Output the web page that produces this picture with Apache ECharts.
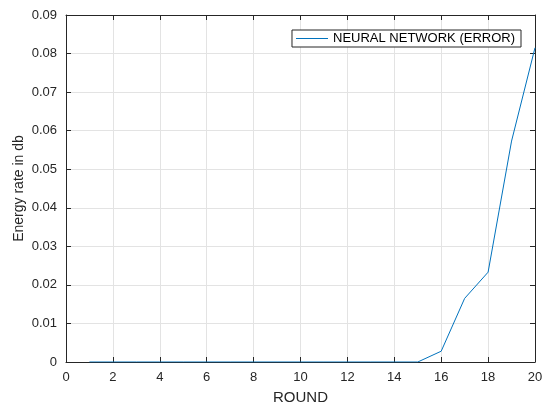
<!DOCTYPE html>
<html>
<head>
<meta charset="utf-8">
<script src="https://cdn.jsdelivr.net/npm/echarts@6/dist/echarts.min.js"></script>
<style>
html,body{margin:0;padding:0;background:#fff;}
#chart{width:544px;height:406px;}
</style>
</head>
<body>
<div id="chart"></div>
<script>
const rounds = [1,2,3,4,5,6,7,8,9,10,11,12,13,14,15,16,17,18,19,20];
const errorValues = [0,0,0,0,0,0,0,0,0,0,0,0,0,0,0,0.0028,0.0165,0.0233,0.0573,0.0815];
const seriesName = 'NEURAL NETWORK (ERROR)';
const xTitle = 'ROUND';
const yTitle = 'Energy rate in db';

const axisColor = '#262626';
const font = 'Liberation Sans, Arial, sans-serif';
const chart = echarts.init(document.getElementById('chart'), null, {renderer:'canvas'});

const xBase = {
  type:'value', min:0, max:20, interval:2,
  axisLine:{show:true, onZero:false, lineStyle:{color:axisColor, width:1}},
  axisTick:{show:true, inside:true, length:5, lineStyle:{color:axisColor}},
};
const yBase = {
  type:'value', min:0, max:0.09, interval:0.01,
  axisLine:{show:true, onZero:false, lineStyle:{color:axisColor, width:1}},
  axisTick:{show:true, inside:true, length:5, lineStyle:{color:axisColor}},
};

chart.setOption({
  animation:false,
  backgroundColor:'#fff',
  grid:{left:66, right:9, top:15, bottom:44, containLabel:false, outerBoundsMode:'none'},
  legend:{
    show:true, data:[seriesName], right:23, top:30,
    orient:'horizontal',
    backgroundColor:'#fff', borderColor:axisColor, borderWidth:1, borderRadius:0,
    padding:[2,6,2,4],
    itemWidth:32, itemHeight:1, itemGap:4,
    icon:'rect',
    textStyle:{fontFamily:font, fontSize:13, color:'#000'}
  },
  xAxis:[
    Object.assign({}, xBase, {
      position:'bottom',
      name:xTitle, nameLocation:'middle', nameGap:28, nameMoveOverlap:false,
      nameTextStyle:{fontFamily:font, fontSize:15, color:'#262626'},
      axisLabel:{show:true, margin:9, fontFamily:font, fontSize:13, color:'#262626',
        formatter:v=>String(v)},
      splitLine:{show:true, lineStyle:{color:'#e3e3e3', width:1}}
    }),
    Object.assign({}, xBase, {
      position:'top', axisLabel:{show:false}, splitLine:{show:false}
    })
  ],
  yAxis:[
    Object.assign({}, yBase, {
      position:'left',
      name:yTitle, nameLocation:'middle', nameGap:40, nameRotate:90, nameMoveOverlap:false,
      nameTextStyle:{fontFamily:font, fontSize:14, color:'#262626'},
      axisLabel:{show:true, margin:9, fontFamily:font, fontSize:13, color:'#262626',
        formatter:v=>v===0?'0':v.toFixed(2)},
      splitLine:{show:true, lineStyle:{color:'#e3e3e3', width:1}}
    }),
    Object.assign({}, yBase, {
      position:'right', axisLabel:{show:false}, splitLine:{show:false}
    })
  ],
  series:[{
    name:seriesName, type:'line',
    xAxisIndex:0, yAxisIndex:0,
    data: rounds.map((r,i)=>[r, errorValues[i]]),
    symbol:'none', showSymbol:false,
    lineStyle:{color:'#0072BD', width:1},
    itemStyle:{color:'#0072BD'},
    clip:true
  }]
});
</script>
</body>
</html>
